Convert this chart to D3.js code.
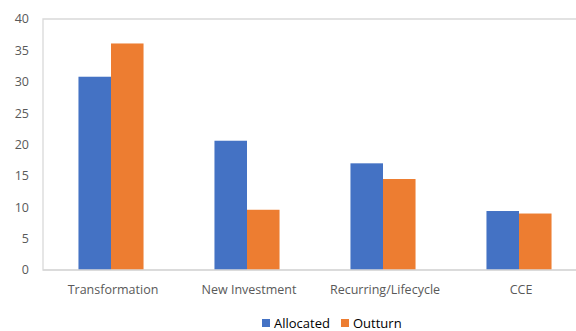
<!DOCTYPE html>
<html><head><meta charset="utf-8">
<script src="https://cdn.jsdelivr.net/npm/d3@7"></script>
<style>body{margin:0;background:#fff;}svg{display:block;}</style>
</head><body>
<svg id="c" width="576" height="331"></svg>
<script>
const categories = ["Transformation", "New Investment", "Recurring/Lifecycle", "CCE"];
const seriesNames = ["Allocated", "Outturn"];
const allocated = [30.8, 20.6, 17.0, 9.4];
const outturn = [36.1, 9.6, 14.5, 9.0];
const yTicks = [0, 5, 10, 15, 20, 25, 30, 35, 40];
const colors = ["#4472C4", "#ED7D31"];

const svg = d3.select("#c");
const font = "'Open Sans', 'Noto Sans', sans-serif";
const x0 = d3.scaleBand().domain(categories).range([43, 587]).paddingInner(0).paddingOuter(0);
const x1 = d3.scaleBand().domain(seriesNames).range([0, x0.bandwidth()]).paddingInner(0).paddingOuter(1.09);
const y = d3.scaleLinear().domain([0, 40]).range([270, 19]);

// plot border (left, top, bottom)
svg.append("path")
  .attr("d", `M587,${y(40)}H${43}V${y(0)}H587`)
  .attr("fill", "none").attr("stroke", "#d9d9d9").attr("stroke-width", 1.3);

// y axis labels
svg.append("g").selectAll("text").data(yTicks).join("text")
  .attr("x", 29).attr("y", d => y(d)).attr("dy", "0.35em")
  .attr("text-anchor", "end").attr("font-family", font).attr("font-size", 12.5)
  .attr("fill", "#595959").text(d => d);

const data = categories.map((c, i) => ({c, vals: [allocated[i], outturn[i]]}));
const g = svg.append("g").selectAll("g").data(data).join("g")
  .attr("transform", d => `translate(${x0(d.c)},0)`);
g.selectAll("rect").data(d => d.vals.map((v, j) => ({s: seriesNames[j], v, j}))).join("rect")
  .attr("x", d => x1(d.s)).attr("width", x1.bandwidth())
  .attr("y", d => y(d.v)).attr("height", d => y(0) - y(d.v))
  .attr("fill", d => colors[d.j]);

// baseline redraw
svg.append("line").attr("x1", 43).attr("x2", 587).attr("y1", y(0)).attr("y2", y(0))
  .attr("stroke", "#d9d9d9").attr("stroke-width", 1.3);

// category labels
svg.append("g").selectAll("text").data(categories).join("text")
  .attr("x", d => x0(d) + x0.bandwidth() / 2 + 2).attr("y", 294)
  .attr("text-anchor", "middle").attr("font-family", font).attr("font-size", 12.5)
  .attr("fill", "#595959").text(d => d);

// legend
const legX = [262, 341];
const lg = svg.append("g").selectAll("g").data(seriesNames).join("g")
  .attr("transform", (d, i) => `translate(${legX[i]},0)`);
lg.append("rect").attr("x", 0).attr("y", 319).attr("width", 8).attr("height", 8)
  .attr("fill", (d, i) => colors[i]);
lg.append("text").attr("x", 12).attr("y", 323).attr("dy", "0.35em")
  .attr("font-family", font).attr("font-size", 13).attr("fill", "#000").text(d => d);
</script>
</body></html>
